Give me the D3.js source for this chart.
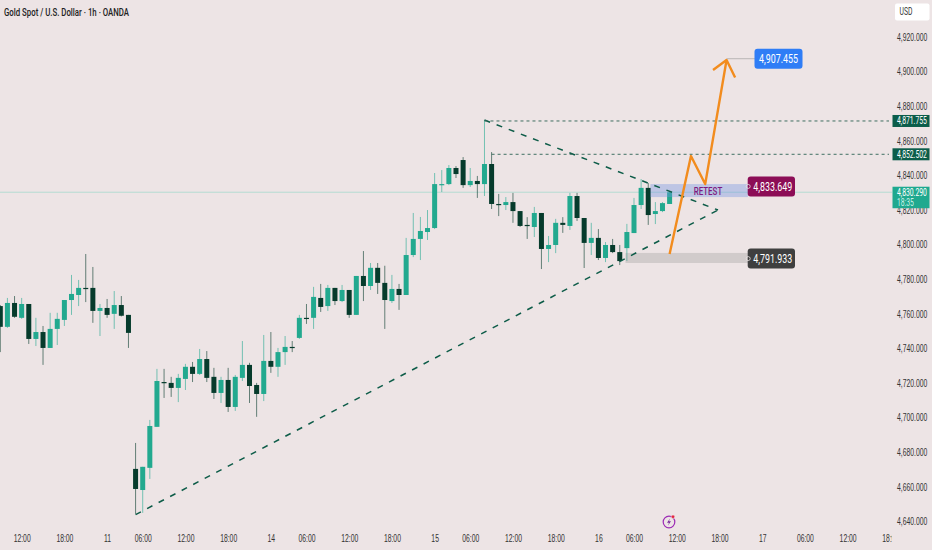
<!DOCTYPE html>
<html lang="en">
<head>
  <meta charset="UTF-8">
  <title>Gold Spot / U.S. Dollar</title>
  <script src="https://d3js.org/d3.v7.min.js"></script>
  <style>
    body { margin: 0; background: #ede4e5; }
    svg { display: block; font-family: Roboto, sans-serif; }
    .tick text { font-size: 10px; fill: #333; }
  </style>
</head>
<body>
  <svg width="932" height="550"></svg>

  <script>
    const opens = [4764.5,4752.5,4766.3,4757.7,4765.7,4745.5,4749.5,4740.3,4751.3,4756.5,4768.0,4770.9,4775.0,4775.0,4761.7,4763.4,4760.0,4765.1,4759.4,
      4670.4,4658.2,4671.0,4694.7,4720.6,4720.1,4717.2,4722.4,4729.4,4725.3,4733.9,4723.6,4714.3,4721.8,4706.2,4723.0,4730.5,4718.9,4713.7,4732.8,
      4729.4,4737.9,4740.9,4746.1,4757.7,4757.7,4769.2,4764.5,4775.0,4767.4,4773.8,4759.4,4781.9,4776.1,4786.6,4777.9,4767.4,4774.4,4770.9,4794.0,
      4803.3,4807.3,4809.6,4834.4,4835.0,4844.3,4848.9,4834.4,4836.8,4835.0,4846.6,4823.5,4822.9,4824.6,4819.4,4811.4,4810.2,4818.3,4797.5,4799.8,
      4812.6,4810.8,4828.1,4815.4,4801.0,4803.9,4792.3,4799.8,4795.7,4798.0,4806.7,4822.9,4832.8,4817.7,4819.4,4823.5];
    const highs = [4765.1,4769.2,4770.3,4769.2,4765.7,4757.7,4753.0,4760.6,4760.6,4768.0,4782.5,4779.6,4794.6,4787.1,4765.7,4768.6,4773.2,4770.3,4759.4,
      4685.4,4671.6,4698.7,4728.2,4728.2,4723.6,4725.3,4731.1,4732.2,4739.7,4738.5,4728.8,4723.6,4728.8,4724.7,4744.3,4731.7,4720.1,4747.8,4749.5,
      4740.3,4747.2,4744.3,4759.4,4765.7,4775.6,4777.3,4776.7,4775.0,4776.7,4773.8,4781.9,4796.3,4789.4,4789.4,4787.8,4782.5,4777.3,4803.9,4818.3,
      4816.0,4820.0,4841.4,4843.1,4846.0,4845.4,4850.6,4844.3,4839.7,4872.0,4853.5,4829.3,4827.5,4829.9,4819.4,4815.9,4821.8,4818.3,4805.0,4814.9,
      4815.9,4829.9,4829.9,4815.4,4812.6,4809.0,4801.5,4803.3,4799.8,4812.0,4827.0,4837.9,4835.6,4824.6,4824.6,4830.9];
    const lows = [4737.9,4751.9,4757.7,4757.1,4742.6,4741.4,4730.5,4740.3,4742.0,4753.0,4759.4,4764.5,4766.8,4754.8,4747.2,4757.7,4751.3,4758.5,4740.3,
      4644.4,4645.0,4664.6,4694.7,4711.4,4712.0,4709.0,4716.0,4720.6,4724.7,4720.6,4710.8,4708.5,4703.3,4703.9,4721.2,4708.5,4700.5,4709.6,4725.9,
      4723.6,4730.5,4737.9,4745.5,4754.2,4751.3,4761.1,4761.7,4765.1,4766.8,4757.7,4759.4,4767.4,4773.8,4771.5,4751.3,4766.3,4762.3,4770.9,4792.8,
      4791.1,4802.7,4809.0,4830.4,4834.4,4838.5,4832.8,4833.3,4827.0,4828.1,4820.6,4816.5,4820.0,4812.6,4810.2,4803.3,4804.4,4785.9,4789.9,4795.1,
      4806.8,4808.5,4813.7,4786.5,4794.0,4791.1,4789.9,4795.1,4788.2,4790.5,4806.7,4820.6,4811.4,4811.9,4818.8,4823.5];
    const closes = [4752.5,4766.3,4758.3,4765.7,4745.5,4749.5,4740.3,4751.3,4757.1,4768.0,4771.5,4775.0,4774.4,4761.7,4763.4,4759.4,4765.1,4758.9,4749.0,
      4658.8,4671.6,4695.2,4721.2,4720.1,4717.2,4723.0,4729.4,4725.3,4733.9,4723.0,4714.3,4721.8,4706.2,4723.6,4730.5,4718.3,4713.7,4732.8,4729.4,
      4737.9,4740.9,4740.3,4757.7,4757.1,4769.8,4764.0,4775.0,4767.4,4773.8,4759.4,4781.9,4776.1,4786.6,4777.9,4768.0,4774.4,4770.9,4794.0,4803.3,
      4807.9,4809.6,4835.0,4835.0,4844.3,4840.8,4834.4,4836.8,4835.0,4846.6,4823.5,4822.9,4824.6,4819.4,4810.8,4810.8,4818.3,4797.5,4799.8,4812.6,
      4811.4,4828.1,4815.4,4801.0,4803.9,4792.3,4799.8,4795.7,4790.5,4807.3,4822.9,4832.8,4817.1,4819.4,4824.0,4830.29];

    const priceTicks = [4920,4900,4880,4860,4840,4820,4800,4780,4760,4740,4720,4700,4680,4660,4640];
    const timeTickBars = [3,9,15,20,26,32,38,43,49,55,61,66,72,78,84,89,95,101,107,113,119,125];
    const timeTickLabels = ["12:00","18:00","11","06:00","12:00","18:00","14","06:00","12:00","18:00","15","06:00","12:00","18:00","16","06:00","12:00","18:00","17","06:00","12:00","18:00"];

    // drawings, as [bar, price]
    const risingLine = [[19,4644],[100.8,4820]];
    const fallingLine = [[68,4872],[100.8,4820]];
    const orangePath = [[94,4794.6],[97,4851.2],[99,4835],[102,4906.7]];
    const orangeHead = [[100.1,4900.9],[102,4906.7],[103.2,4896.6]];
    const level1 = 4871.755, level1Start = 68;
    const level2 = 4852.502, level2Start = 69;
    const lastPrice = 4830.29;
    const targetPrice = 4907.455;
    const retestPrice = 4833.649;
    const supportPrice = 4791.933;
    const retestZone = [91.3,105,4835,4827.5];
    const supportZone = [87.8,105,4795.2,4789.4];

    const UP = "#22a98f", DOWN = "#063b2c";
    const svg = d3.select("svg");
    const chartRight = 892;

    const x = d3.scaleLinear().domain([0,94]).range([0.3,669.6]);
    const y = d3.scaleLinear().domain([4920,4640]).range([37,521.5]);

    // the reference text is squeezed sideways, so squeeze ours the same way
    function squeeze(sel, k) {
      sel.attr("transform", function() {
        const x0 = +this.getAttribute("x") || 0;
        return `translate(${x0 * (1 - k)},0) scale(${k},1)`;
      });
    }

    svg.append("defs").append("clipPath").attr("id", "plot")
      .append("rect").attr("width", chartRight).attr("height", 550);

    // last price line
    svg.append("line")
      .attr("x1", 0).attr("x2", chartRight)
      .attr("y1", y(lastPrice)).attr("y2", y(lastPrice))
      .attr("stroke", "#b4dcd2").attr("stroke-width", 1);

    // candles
    const candle = svg.append("g").selectAll("g")
      .data(d3.range(opens.length))
      .enter().append("g");

    candle.append("line")
      .attr("x1", i => x(i)).attr("x2", i => x(i))
      .attr("y1", i => y(highs[i])).attr("y2", i => y(lows[i]))
      .attr("stroke", i => closes[i] >= opens[i] ? UP : DOWN)
      .attr("stroke-opacity", 0.6)
      .attr("stroke-width", 1);

    candle.append("rect")
      .attr("x", i => x(i) - 2.5)
      .attr("width", 5)
      .attr("y", i => y(Math.max(opens[i], closes[i])))
      .attr("height", i => Math.max(1.2, Math.abs(y(opens[i]) - y(closes[i]))))
      .attr("fill", i => closes[i] >= opens[i] ? UP : DOWN);

    // zones
    function zone(z, color) {
      svg.append("rect")
        .attr("x", x(z[0])).attr("width", x(z[1]) - x(z[0]))
        .attr("y", y(z[2])).attr("height", y(z[3]) - y(z[2]))
        .attr("fill", color);
    }
    zone(retestZone, "rgba(112,146,226,0.38)");
    zone(supportZone, "rgba(130,130,130,0.26)");

    // trend lines
    const line = d3.line().x(d => x(d[0])).y(d => y(d[1]));
    [risingLine, fallingLine].forEach(d => {
      svg.append("path").attr("d", line(d))
        .attr("fill", "none").attr("stroke", "#0d5c48")
        .attr("stroke-width", 1.5).attr("stroke-dasharray", "6,7");
    });

    // horizontal levels
    [[level1, level1Start], [level2, level2Start]].forEach(d => {
      svg.append("line")
        .attr("x1", x(d[1])).attr("x2", 889)
        .attr("y1", y(d[0]) + 0.5).attr("y2", y(d[0]) + 0.5)
        .attr("stroke", "#3f6f61").attr("stroke-width", 1)
        .attr("stroke-dasharray", "3,3");
    });

    // target leader
    svg.append("line")
      .attr("x1", x(102)).attr("x2", 755)
      .attr("y1", y(targetPrice)).attr("y2", y(targetPrice))
      .attr("stroke", "#b9b5b5").attr("stroke-width", 1);

    // orange projection
    [orangePath, orangeHead].forEach(d => {
      svg.append("path").attr("d", line(d))
        .attr("fill", "none").attr("stroke", "#f28c1e")
        .attr("stroke-width", 2.4).attr("stroke-linejoin", "round");
    });

    svg.append("text")
      .attr("x", 708).attr("y", 191).attr("dy", "0.35em")
      .attr("text-anchor", "middle")
      .attr("font-size", 11).attr("font-weight", 500)
      .attr("fill", "#7d1a80")
      .text("RETEST")
      .call(squeeze, 0.72);

    // axes
    const yAxis = d3.axisRight(y)
      .tickValues(priceTicks)
      .tickSize(0).tickPadding(5)
      .tickFormat(d3.format(",.3f"));
    const yG = svg.append("g").attr("transform", `translate(${chartRight},0)`).call(yAxis);
    yG.select(".domain").remove();
    yG.selectAll("text").call(squeeze, 0.68);

    const xAxis = d3.axisBottom(x)
      .tickValues(timeTickBars)
      .tickSize(0).tickPadding(0)
      .tickFormat((d, i) => timeTickLabels[i]);
    const xG = svg.append("g").attr("clip-path", "url(#plot)").append("g")
      .attr("transform", "translate(0,535)").call(xAxis);
    xG.select(".domain").remove();
    xG.selectAll("text").call(squeeze, 0.68);

    // floating labels on the plot
    function floatLabel(price, x0, x1, color, anchorDot) {
      const cy = y(price);
      svg.append("rect")
        .attr("x", x0).attr("y", cy - 10).attr("width", x1 - x0).attr("height", 20)
        .attr("rx", 3).attr("fill", color);
      svg.append("text")
        .attr("x", (x0 + x1) / 2 + (anchorDot ? 1.5 : 0)).attr("y", cy).attr("dy", "0.35em")
        .attr("text-anchor", "middle")
        .attr("font-size", 12).attr("fill", "#fff")
        .text(d3.format(",.3f")(price))
        .call(squeeze, 0.74);
      if (anchorDot) {
        svg.append("circle")
          .attr("cx", x0 + 0.5).attr("cy", cy).attr("r", 2)
          .attr("fill", "none").attr("stroke", "#e8e2e2").attr("stroke-width", 0.8);
      }
    }
    floatLabel(targetPrice, 754.5, 802.5, "#2f7df6", false);
    floatLabel(retestPrice, 747.7, 795, "#8c0d56", true);
    floatLabel(supportPrice, 747.7, 795, "#3f3f3f", true);

    // price scale tags
    function scaleTag(price, color) {
      const cy = y(price) + 0.5;
      svg.append("rect")
        .attr("x", 892.5).attr("y", cy - 6).attr("width", 37).attr("height", 12)
        .attr("fill", color);
      svg.append("text")
        .attr("x", 897).attr("y", cy).attr("dy", "0.35em")
        .attr("font-size", 10).attr("fill", "#fff")
        .text(d3.format(",.3f")(price))
        .call(squeeze, 0.68);
    }
    scaleTag(level1, "#0b5d4a");
    scaleTag(level2, "#0b5d4a");

    const lastY = y(lastPrice);
    svg.append("rect")
      .attr("x", 892.5).attr("y", lastY - 5.5).attr("width", 37).attr("height", 21.5)
      .attr("fill", "#1fa98f");
    svg.append("text")
      .attr("x", 897).attr("y", lastY + 0.5).attr("dy", "0.35em")
      .attr("font-size", 10).attr("fill", "#fff")
      .text(d3.format(",.3f")(lastPrice))
      .call(squeeze, 0.68);
    svg.append("text")
      .attr("x", 897).attr("y", lastY + 10).attr("dy", "0.35em")
      .attr("font-size", 10).attr("fill", "#c8f0e6")
      .text("18:35")
      .call(squeeze, 0.68);

    // currency box
    svg.append("rect")
      .attr("x", 895).attr("y", 3.5).attr("width", 34.5).attr("height", 17)
      .attr("rx", 2).attr("fill", "#fff");
    svg.append("text")
      .attr("x", 899.5).attr("y", 12).attr("dy", "0.35em")
      .attr("font-size", 10).attr("fill", "#333")
      .text("USD")
      .call(squeeze, 0.68);

    // title
    svg.append("text")
      .attr("x", 4).attr("y", 11.5).attr("dy", "0.35em")
      .attr("font-size", 11.5).attr("font-weight", 500).attr("fill", "#222")
      .text("Gold Spot / U.S. Dollar · 1h · OANDA")
      .call(squeeze, 0.68);

    // lightning badge
    const badge = svg.append("g").attr("transform", "translate(669,522)");
    badge.append("circle").attr("r", 5.8)
      .attr("fill", "none").attr("stroke", "#9c2bb5").attr("stroke-width", 1.2);
    badge.append("path").attr("d", "M1,-3.5 L-2,0.8 L0,0.8 L-1,3.5 L2,-0.8 L0,-0.8 Z").attr("fill", "#7b2a9c");
    badge.append("circle").attr("cx", 4).attr("cy", -5.3).attr("r", 1.8)
      .attr("fill", "#e5263d").attr("stroke", "#ede4e5").attr("stroke-width", 0.6);
  </script>
</body>
</html>
